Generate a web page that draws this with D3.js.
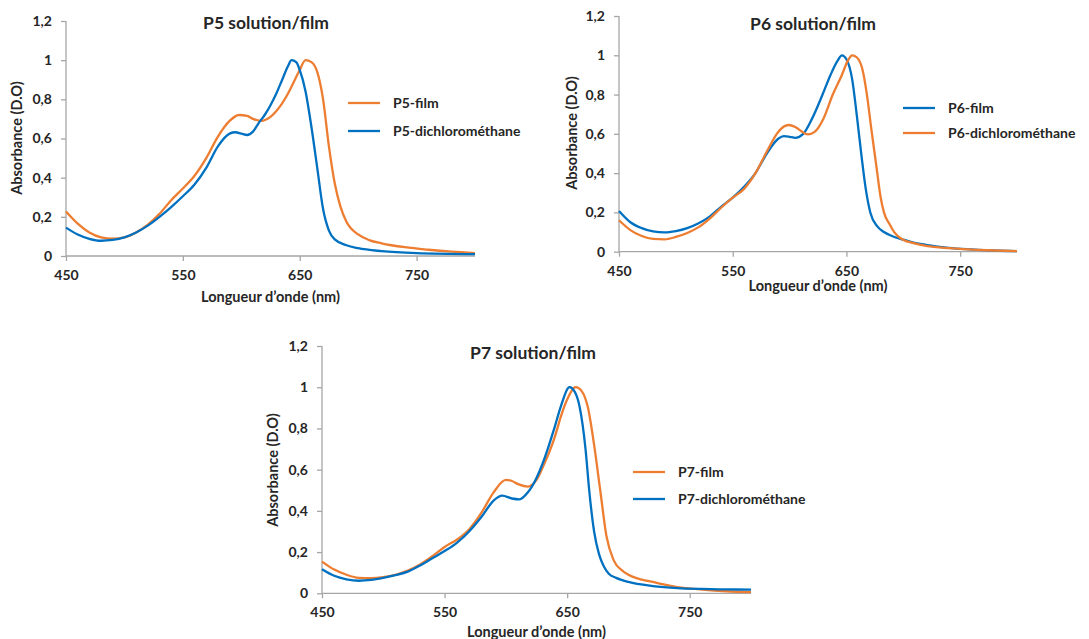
<!DOCTYPE html>
<html><head><meta charset="utf-8">
<script src="https://cdn.jsdelivr.net/npm/d3@7"></script>
<style>
html,body{margin:0;padding:0;background:#fff;}
svg text{font-family:Lato,"Liberation Sans",sans-serif;font-weight:700;fill:#262626;}
</style></head>
<body>
<svg id="chart" width="1089" height="639"></svg>
<script>
// ---------- data ----------
const xTicks = [450, 550, 650, 750];
const yTicks = [0, 0.2, 0.4, 0.6, 0.8, 1, 1.2];
const yTickLabels = ["0", "0,2", "0,4", "0,6", "0,8", "1", "1,2"];
const xTitle = "Longueur d\u2019onde (nm)";
const yTitle = "Absorbance (D.O)";

// P5
const p5FilmWl  = [450,460,470,480,490,500,510,520,530,540,550,560,570,580,590,598,605,610,617,625,630,640,645,650,655,660,665,670,675,680,685,690,700,710,720,740,760,780,800];
const p5FilmAbs = [0.227,0.165,0.12,0.095,0.088,0.095,0.12,0.16,0.215,0.285,0.345,0.41,0.5,0.61,0.69,0.72,0.715,0.70,0.69,0.71,0.74,0.83,0.89,0.95,1.0,0.99,0.94,0.80,0.56,0.37,0.25,0.175,0.11,0.08,0.065,0.045,0.032,0.022,0.015];
const p5DcmWl   = [450,460,470,480,490,500,510,520,530,540,550,560,570,580,590,595,600,605,610,615,620,625,630,635,640,643,647,650,655,660,665,670,675,680,690,700,720,750,800];
const p5DcmAbs  = [0.145,0.11,0.088,0.078,0.082,0.095,0.12,0.155,0.2,0.25,0.305,0.365,0.45,0.56,0.625,0.632,0.625,0.618,0.635,0.68,0.72,0.77,0.83,0.9,0.97,1.0,0.99,0.95,0.84,0.66,0.45,0.24,0.13,0.085,0.055,0.04,0.025,0.015,0.01];

// P6
const p6FilmWl  = [450,460,470,480,490,500,510,520,530,540,550,560,570,580,590,595,600,605,612,620,629,636,642,646,650,655,659,663,667,671,677,683,690,699,710,720,740,760,780,800];
const p6FilmAbs = [0.207,0.15,0.12,0.103,0.098,0.105,0.12,0.145,0.18,0.23,0.275,0.33,0.40,0.50,0.575,0.588,0.585,0.58,0.60,0.68,0.80,0.90,0.97,1.0,0.98,0.88,0.70,0.50,0.32,0.20,0.13,0.10,0.08,0.063,0.045,0.035,0.02,0.012,0.006,0.003];
const p6DcmWl   = [450,460,470,480,490,500,510,520,530,540,550,560,570,580,590,599,605,610,616,622,630,638,646,651,655,659,664,668,672,676,680,683,688,692,699,710,720,740,760,780,800];
const p6DcmAbs  = [0.16,0.11,0.08,0.065,0.063,0.075,0.095,0.125,0.17,0.225,0.275,0.32,0.40,0.51,0.61,0.645,0.635,0.615,0.597,0.61,0.68,0.80,0.90,0.97,1.0,0.99,0.93,0.80,0.62,0.45,0.28,0.20,0.14,0.10,0.063,0.042,0.03,0.018,0.011,0.006,0.003];

// P7
const p7FilmWl  = [450,460,470,480,490,500,510,520,530,540,550,560,570,580,590,600,605,610,618,625,630,640,645,650,657,662,667,672,677,682,688,695,700,720,740,760,780,800];
const p7FilmAbs = [0.154,0.115,0.09,0.075,0.073,0.078,0.09,0.11,0.14,0.18,0.225,0.26,0.31,0.39,0.49,0.55,0.545,0.53,0.518,0.55,0.61,0.76,0.86,0.94,1.0,0.98,0.90,0.72,0.50,0.28,0.16,0.11,0.09,0.055,0.03,0.018,0.01,0.006];
const p7DcmWl   = [450,460,470,480,490,500,510,520,530,540,550,560,570,580,590,597,605,611,618,625,630,640,645,652,656,660,665,668,672,676,680,684,690,700,720,740,760,780,800];
const p7DcmAbs  = [0.117,0.085,0.068,0.061,0.065,0.075,0.088,0.105,0.135,0.17,0.205,0.245,0.30,0.37,0.45,0.474,0.46,0.456,0.49,0.56,0.63,0.81,0.91,1.0,0.98,0.91,0.70,0.50,0.30,0.19,0.13,0.095,0.075,0.055,0.035,0.025,0.021,0.019,0.018];

const ORANGE = "#ED7D31", BLUE = "#0070C0";

const panels = [
  {title:"P5 solution/film", L:66, R:475, T:21, B:256, tx:266, ty:29, xlabY:302, ylabX:17, ylabY:138,
   legX:348, legY:[103,131],
   series:[{name:"P5-film", wl:p5FilmWl, abs:p5FilmAbs, color:ORANGE},
           {name:"P5-dichlorom\u00e9thane", wl:p5DcmWl, abs:p5DcmAbs, color:BLUE}]},
  {title:"P6 solution/film", L:619, R:1017, T:16, B:251.7, tx:813, ty:30, xlabY:291, ylabX:572, ylabY:133,
   legX:903, legY:[108,133],
   series:[{name:"P6-film", wl:p6FilmWl, abs:p6FilmAbs, color:BLUE},
           {name:"P6-dichlorom\u00e9thane", wl:p6DcmWl, abs:p6DcmAbs, color:ORANGE}]},
  {title:"P7 solution/film", L:322, R:751, T:346, B:593.3, tx:533, ty:359, xlabY:637, ylabX:273, ylabY:470,
   legX:633, legY:[472,499],
   series:[{name:"P7-film", wl:p7FilmWl, abs:p7FilmAbs, color:ORANGE},
           {name:"P7-dichlorom\u00e9thane", wl:p7DcmWl, abs:p7DcmAbs, color:BLUE}]}
];

const svg = d3.select("#chart");
const AXC = "#a6a6a6";

panels.forEach(p => {
  const g = svg.append("g");
  const x = d3.scaleLinear().domain([450, 800]).range([p.L, p.R]);
  const y = d3.scaleLinear().domain([0, 1.2]).range([p.B, p.T]);

  const ya = g.append("g").attr("transform", `translate(${p.L},0)`)
    .call(d3.axisLeft(y).tickValues(yTicks).tickSize(5).tickPadding(9)
      .tickFormat((d,i) => yTickLabels[i]));
  const xa = g.append("g").attr("transform", `translate(0,${p.B})`)
    .call(d3.axisBottom(x).tickValues(xTicks).tickSize(5).tickPadding(9)
      .tickFormat(d3.format("d")));
  [ya, xa].forEach(a => {
    a.select(".domain").attr("stroke", AXC).attr("stroke-width", 1.3);
    a.selectAll(".tick line").attr("stroke", AXC).attr("stroke-width", 1.3);
    a.selectAll(".tick text").style("font-size", "14px").attr("fill", "#262626");
  });
  ya.select(".domain").attr("d", `M0,${p.B}V${p.T}`);
  xa.select(".domain").attr("d", `M${p.L},0H${p.R}`);

  const line = d3.line().curve(d3.curveMonotoneX);
  p.series.forEach(s => {
    const pts = s.wl.map((w,i) => [x(w), y(s.abs[i])]);
    g.append("path").attr("d", line(pts)).attr("fill", "none")
      .attr("stroke", s.color).attr("stroke-width", 2.3).attr("stroke-linejoin","round");
  });

  g.append("text").attr("x", p.tx).attr("y", p.ty).attr("text-anchor", "middle")
    .style("font-size", "17.5px").text(p.title);
  g.append("text").attr("x", (p.L + p.R) / 2).attr("y", p.xlabY).attr("text-anchor", "middle")
    .style("font-size", "14.5px").text(xTitle);
  g.append("text").attr("transform", `translate(${p.ylabX + 5},${p.ylabY}) rotate(-90)`)
    .attr("text-anchor", "middle").style("font-size", "14.5px").text(yTitle);

  p.series.forEach((s,i) => {
    const ly = p.legY[i];
    g.append("line").attr("x1", p.legX).attr("x2", p.legX + 32).attr("y1", ly).attr("y2", ly)
      .attr("stroke", s.color).attr("stroke-width", 2.3);
    g.append("text").attr("x", p.legX + 45).attr("y", ly + 5)
      .style("font-size", "14px").text(s.name);
  });
});
</script>
</body></html>
